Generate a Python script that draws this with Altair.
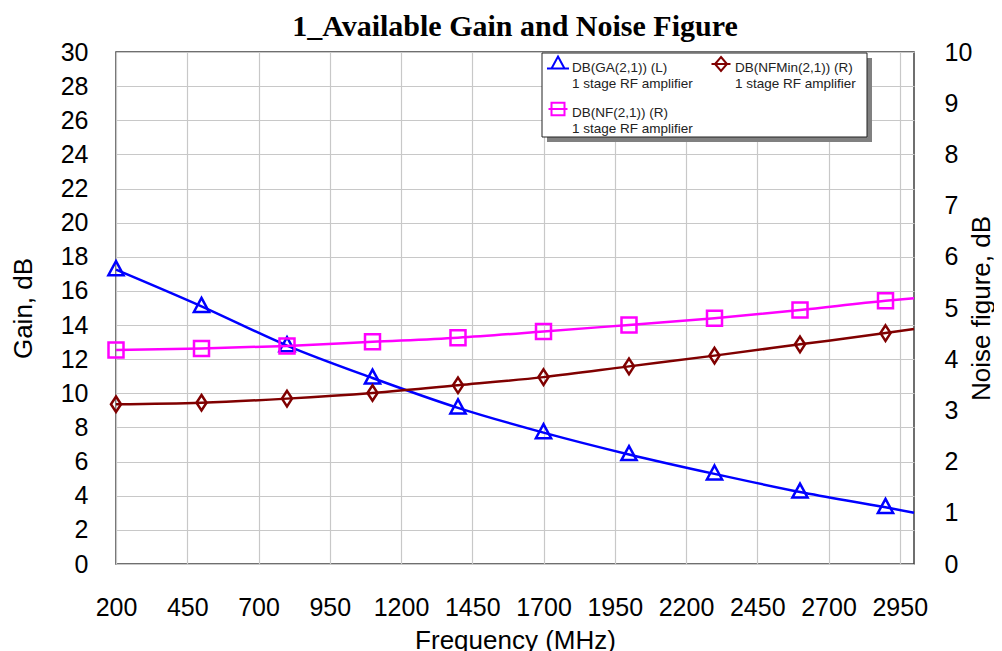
import altair as alt
import pandas as pd

# ---------------- data ----------------
freq = [200, 500, 800, 1100, 1400, 1700, 2000, 2300, 2600, 2900, 3000]
ga_db = [17.25, 15.1, 12.8, 10.9, 9.15, 7.7, 6.42, 5.28, 4.22, 3.32, 3.0]
nfmin_db = [3.12, 3.15, 3.23, 3.34, 3.49, 3.65, 3.86, 4.07, 4.29, 4.51, 4.59]
nf_db = [4.18, 4.21, 4.26, 4.34, 4.42, 4.54, 4.67, 4.80, 4.96, 5.14, 5.19]
marker_freq = [200, 500, 800, 1100, 1400, 1700, 2000, 2300, 2600, 2900]

series_ga = "DB(GA(2,1)) (L)|1 stage RF amplifier"
series_nfmin = "DB(NFMin(2,1)) (R)|1 stage RF amplifier"
series_nf = "DB(NF(2,1)) (R)|1 stage RF amplifier"
series_order = [series_ga, series_nfmin, series_nf]
series_colors = ["#0000FF", "#800000", "#FF00FF"]

x_ticks = [200, 450, 700, 950, 1200, 1450, 1700, 1950, 2200, 2450, 2700, 2950]
left_ticks = list(range(0, 31, 2))
right_ticks = list(range(0, 11))

title_text = "1_Available Gain and Noise Figure"

# ---------------- tables ----------------
rows = []
for name, vals in [(series_ga, ga_db), (series_nfmin, nfmin_db), (series_nf, nf_db)]:
    for f, v in zip(freq, vals):
        rows.append({"freq": f, "value": v, "series": name, "marker": f in marker_freq})
df = pd.DataFrame(rows)

LABEL_FONT = "Liberation Sans"

x_enc = alt.X(
    "freq:Q",
    scale=alt.Scale(domain=[200, 3000], nice=False, zero=False),
    axis=alt.Axis(
        values=x_ticks, format="d", title="Frequency (MHz)", grid=True, labelFlush=False,
        labelPadding=31, titleY=84, titleBaseline="alphabetic",
    ),
)

# ---------------- left (gain) layer ----------------
ga_base = alt.Chart(df).transform_filter(alt.datum.series == series_ga)
y_left = alt.Y(
    "value:Q",
    scale=alt.Scale(domain=[0, 30], nice=False, zero=True),
    axis=alt.Axis(orient="left", values=left_ticks, format="d", title="Gain, dB", labelPadding=28,
                  labelFlush=False, titleX=-93, titleBaseline="middle"),
)
color_plain = alt.Color("series:N", scale=alt.Scale(domain=series_order, range=series_colors), legend=None)

ga_line = ga_base.mark_line(strokeWidth=2.5, interpolate="monotone").encode(
    x=x_enc, y=y_left, color=color_plain
)
ga_pts = ga_base.transform_filter(alt.datum.marker == True).mark_point(
    filled=False, strokeWidth=2.5, size=256, opacity=1,
    shape="M0,-1.05L0.95,0.7L-0.95,0.7Z",
).encode(x=x_enc, y=y_left, color=color_plain)
left_layer = alt.layer(ga_line, ga_pts)

# ---------------- right (noise figure) layer ----------------
nf_base = alt.Chart(df).transform_filter(alt.datum.series != series_ga)
y_right = alt.Y(
    "value:Q",
    scale=alt.Scale(domain=[0, 10], nice=False, zero=True),
    axis=alt.Axis(orient="right", values=right_ticks, format="d", title="Noise figure, dB", labelPadding=30,
                  labelFlush=False, titleAngle=270, titleX=67, titleBaseline="middle"),
)
nf_line = nf_base.mark_line(strokeWidth=2.5, interpolate="monotone").encode(
    x=x_enc, y=y_right, color=color_plain
)
nf_pts = nf_base.transform_filter(alt.datum.marker == True).mark_point(
    filled=False, strokeWidth=2.5, opacity=1,
).encode(
    x=x_enc, y=y_right, color=color_plain,
    shape=alt.Shape("series:N", scale=alt.Scale(domain=[series_nfmin, series_nf],
                    range=["M0,-1L0.65,0L0,1L-0.65,0Z", "square"]), legend=None),
    size=alt.Size("series:N", scale=alt.Scale(domain=[series_nfmin, series_nf], range=[240, 225]), legend=None),
)
right_layer = alt.layer(nf_line, nf_pts)

# ---------------- legend (symbol = marker with line through) ----------------
legend_shapes = [
    "M-1.1,0.75L1.1,0.75M0,-0.45L0.65,0.75L-0.65,0.75Z",
    "M-0.95,0.3L0.95,0.3M0,-0.4L0.6,0.3L0,1.0L-0.6,0.3Z",
    "M-0.95,0.3L0.95,0.3M-0.65,-0.32L0.65,-0.32L0.65,0.92L-0.65,0.92Z",
]
leg = alt.Legend(
    orient="none", legendX=426, legendY=-7, direction="horizontal", columns=2,
    title=None, fillColor="transparent", strokeColor="transparent", padding=5,
    labelFont=LABEL_FONT, labelFontSize=13.5, labelColor="#222222", labelLimit=300,
    labelExpr="split(datum.label, '|')",
    labelBaseline="top", labelOffset=3,
    symbolSize=400, symbolStrokeWidth=2, symbolFillColor="transparent",
    columnPadding=14, rowPadding=5,
)
legend_layer = alt.Chart(df).transform_filter("false").mark_point(
    filled=False, strokeWidth=2, opacity=1
).encode(
    color=alt.Color("series:N", scale=alt.Scale(domain=series_order, range=series_colors), legend=leg),
    shape=alt.Shape("series:N", scale=alt.Scale(domain=series_order, range=legend_shapes), legend=leg),
)

# legend frame and its drop shadow (decoration)
deco_df = pd.DataFrame({"k": [0]})
shadow = alt.Chart(deco_df).mark_rect(color="#808080").encode(
    x=alt.value(431), x2=alt.value(756), y=alt.value(6), y2=alt.value(90)
)
frame = alt.Chart(deco_df).mark_rect(fill="white", stroke="#222222", strokeWidth=1).encode(
    x=alt.value(426), x2=alt.value(751), y=alt.value(1), y2=alt.value(85)
)

chart = alt.layer(shadow, frame, left_layer, right_layer, legend_layer).resolve_scale(
    y="independent", color="independent", shape="independent", size="independent"
).properties(
    width=798, height=512,
    title=alt.TitleParams(title_text, font="Liberation Serif", fontSize=30, fontWeight="bold",
                          anchor="middle", offset=0, dy=2, color="black", frame="group"),
    autosize=alt.AutoSizeParams(type="none"),
    padding={"left": 108, "top": 44, "right": 80, "bottom": 87},
    background="white",
).configure_view(
    stroke="#404040", strokeWidth=1.5
).configure_axis(
    labelFont=LABEL_FONT, labelFontSize=25, labelColor="black",
    titleFont=LABEL_FONT, titleFontSize=26, titleFontWeight="normal", titleColor="black",
    ticks=False, tickSize=0, domain=False,
    gridColor="#c8c8c8", gridWidth=1.2, gridOpacity=1,
)

chart.save("out.html", embed_options={"renderer": "svg", "actions": False})
